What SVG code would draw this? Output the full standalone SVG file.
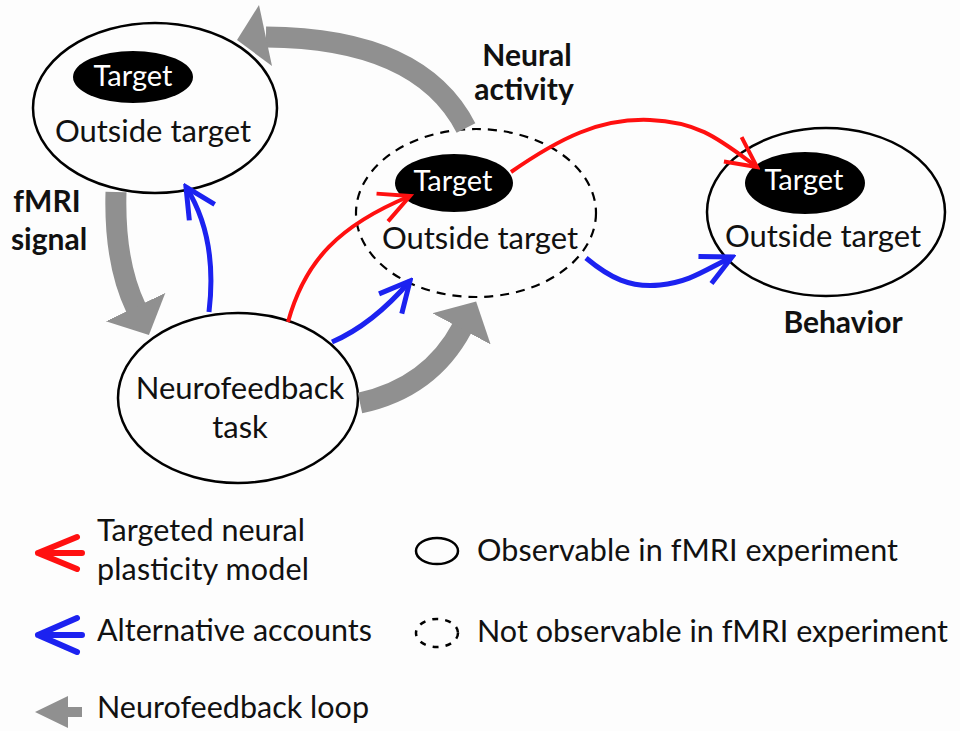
<svg xmlns="http://www.w3.org/2000/svg" width="960" height="731" viewBox="0 0 960 731">
  <defs>
    <style>
      .node { fill: none; stroke: #000; stroke-width: 2.5; }
      .dash { fill: none; stroke: #000; stroke-width: 2.2; stroke-dasharray: 9 7; }
      .core { fill: #000; stroke: none; }
      .t { font-family: Lato, "Liberation Sans", sans-serif; font-size: 31px; fill: #111; text-anchor: middle; }
      .tw { font-family: Lato, "Liberation Sans", sans-serif; font-size: 29px; fill: #fff; text-anchor: middle; }
      .b { font-family: Lato, "Liberation Sans", sans-serif; font-size: 30px; font-weight: bold; fill: #111; text-anchor: middle; }
      .lg { font-family: Lato, "Liberation Sans", sans-serif; font-size: 30.5px; fill: #111; }
      .loop { fill: none; stroke: #909090; stroke-width: 21; }
      .red { fill: none; stroke: #ff1010; stroke-width: 4; }
      .blue { fill: none; stroke: #1c22f0; stroke-width: 5; }
    </style>
    <marker id="hgray" markerUnits="userSpaceOnUse" viewBox="0 -34 32 68" markerWidth="32" markerHeight="68" refX="1" refY="0" orient="auto">
      <path d="M0,-33 L31,0 L0,33 Z" fill="#909090"/>
    </marker>
    <marker id="hred" markerUnits="userSpaceOnUse" viewBox="-36 -20 40 40" markerWidth="40" markerHeight="40" refX="0" refY="0" orient="auto">
      <path d="M-30,-15 L0,0 L-30,15" fill="none" stroke="#ff1010" stroke-width="4"/>
    </marker>
    <marker id="hblue" markerUnits="userSpaceOnUse" viewBox="-36 -20 40 40" markerWidth="40" markerHeight="40" refX="0" refY="0" orient="auto">
      <path d="M-30,-15 L0,0 L-30,15" fill="none" stroke="#1c22f0" stroke-width="5"/>
    </marker>
  </defs>
  <rect width="960" height="731" fill="#fdfdfd"/>

  <g id="node-fmri">
    <ellipse class="node" cx="155" cy="108" rx="122" ry="85"/>
    <ellipse class="core" cx="133" cy="77" rx="60" ry="26"/>
    <text class="tw" x="133" y="86">Target</text>
    <text class="t" x="153" y="142">Outside target</text>
  </g>
  <g id="node-neural">
    <ellipse class="dash" cx="476" cy="213" rx="120" ry="84"/>
    <ellipse class="core" cx="454" cy="183" rx="59" ry="29"/>
    <text class="tw" x="453" y="191">Target</text>
    <text class="t" x="480" y="249">Outside target</text>
  </g>
  <g id="node-behavior">
    <ellipse class="node" cx="826" cy="212" rx="119" ry="84"/>
    <ellipse class="core" cx="805" cy="183" rx="60" ry="31"/>
    <text class="tw" x="804" y="190">Target</text>
    <text class="t" x="823" y="247">Outside target</text>
  </g>
  <g id="node-task">
    <ellipse class="node" cx="238" cy="398" rx="120" ry="85"/>
    <text class="t" x="240" y="399">Neurofeedback</text>
    <text class="t" x="240" y="438">task</text>
  </g>
  <g id="labels">
    <text class="b" x="47" y="212">fMRI</text>
    <text class="b" x="49" y="250">signal</text>
    <text class="b" x="527" y="66">Neural</text>
    <text class="b" x="524" y="100">activity</text>
    <text class="b" x="843" y="333">Behavior</text>
  </g>

  <g id="connectors">
    <path class="loop" d="M466,128 Q420,38 266,37"/>
    <path d="M237,40 L259,5 L272,66 Z" fill="#909090"/>
    <path class="loop" d="M116,192 Q114,262 136,308" marker-end="url(#hgray)"/>
    <path class="loop" d="M360,403 Q430,388 462,328" marker-end="url(#hgray)"/>
    <path class="red" d="M288,322 C305,260 340,225 410,196" marker-end="url(#hred)"/>
    <path class="red" d="M511,172 C560,138 600,118 650,120 S720,140 757,167" marker-end="url(#hred)"/>
    <path class="blue" d="M209,312 C214,270 210,225 186,187" marker-end="url(#hblue)"/>
    <path class="blue" d="M332,342 C360,330 385,310 410,281" marker-end="url(#hblue)"/>
    <path class="blue" d="M586,258 C610,278 630,288 660,285 S705,270 732,257" marker-end="url(#hblue)"/>
  </g>

  <g id="legend">
    <path d="M82,553 L38,553 M77,537 L38,553 L77,569" fill="none" stroke="#ff1010" stroke-width="6" stroke-linecap="round" stroke-linejoin="round"/>
    <text class="lg" x="97" y="541" textLength="208">Targeted neural</text>
    <text class="lg" x="97" y="580" textLength="212">plasticity model</text>
    <path d="M82,635 L38,635 M77,618 L38,635 L77,652" fill="none" stroke="#1c22f0" stroke-width="6" stroke-linecap="round" stroke-linejoin="round"/>
    <text class="lg" x="97" y="641" textLength="275">Alternative accounts</text>
    <path d="M35,712 L68,696 L68,707 L82,707 L82,717 L68,717 L68,728 Z" fill="#909090"/>
    <text class="lg" x="97" y="718" textLength="272">Neurofeedback loop</text>
    <ellipse cx="437" cy="551" rx="21" ry="13" fill="none" stroke="#000" stroke-width="2.5"/>
    <text class="lg" x="477" y="561" textLength="421">Observable in fMRI experiment</text>
    <ellipse cx="437" cy="633" rx="21" ry="14" fill="none" stroke="#000" stroke-width="2.5" stroke-dasharray="6 7"/>
    <text class="lg" x="477" y="642" textLength="471">Not observable in fMRI experiment</text>
  </g>
</svg>
